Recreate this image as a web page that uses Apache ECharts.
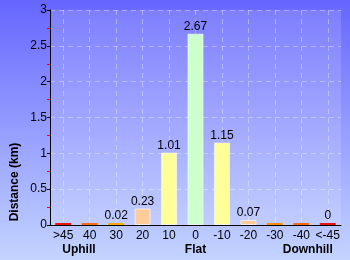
<!DOCTYPE html>
<html><head><meta charset="utf-8">
<script src="https://cdn.jsdelivr.net/npm/echarts@6/dist/echarts.min.js"></script>
<style>html,body{margin:0;padding:0;}#c{width:350px;height:260px;}</style>
</head><body><div id="c"></div>
<script>
const categories = ['>45','40','30','20','10','0','-10','-20','-30','-40','<-45'];
const distances = [0.01,0.01,0.02,0.23,1.01,2.67,1.15,0.07,0.01,0.01,0];
const valueLabels = ['','','0.02','0.23','1.01','2.67','1.15','0.07','','','0'];
const barColors = ['#ee1111','#ff6a10','#ffaa00','#ffcc99','#ffff99','#ccffcc','#ffff99','#ffcc99','#ff8a10','#ff6a10','#ee1111'];
const groupLabels = ['Uphill','Flat','Downhill'];
const yTicks = [0,0.5,1,1.5,2,2.5,3];

const chart = echarts.init(document.getElementById('c'), null, {renderer:'canvas'});
const font = 'Liberation Sans, Arial, sans-serif';
chart.setOption({
  animation:false,
  backgroundColor:{type:'linear',x:0,y:0,x2:0,y2:1,colorStops:[{offset:0,color:'#6666ff'},{offset:1,color:'#c4d4ff'}]},
  grid:{left:50,right:9,top:10,bottom:35,show:true,backgroundColor:'rgba(255,255,255,0.14)',borderWidth:0},
  xAxis:{type:'category',data:categories,
    axisLine:{lineStyle:{color:'#000',width:1}},
    axisTick:{show:false},
    axisLabel:{color:'#000',fontSize:12,fontFamily:font,margin:5,interval:0},
    splitLine:{show:true,alignWithLabel:true,lineStyle:{color:'rgba(255,255,255,0.35)',type:[5,4]}}},
  yAxis:{type:'value',min:yTicks[0],max:yTicks[yTicks.length-1],interval:0.5,
    axisLine:{show:true,lineStyle:{color:'#000',width:1}},
    axisTick:{show:true,length:3,lineStyle:{color:'#000',width:1}},
    minorTick:{show:true,splitNumber:2,length:3,lineStyle:{color:'#ee0000',width:1}},
    axisLabel:{color:'#000',fontSize:12,fontFamily:font,margin:3},
    splitLine:{show:true,lineStyle:{color:'rgba(255,255,255,0.35)',type:[5,4]}}},
  series:[{type:'bar',barWidth:16,barMinHeight:2,
    data:distances.map((v,i)=>({value:v,itemStyle:{color:barColors[i],borderColor:'rgba(255,255,255,0.6)',borderWidth:v>=0.05?1:0}})),
    label:{show:true,position:'top',distance:1,color:'#000',fontSize:12,fontFamily:font,
      formatter:p=>valueLabels[p.dataIndex]}}]
});
function place(){
  const x0 = chart.convertToPixel({xAxisIndex:0}, categories[0]);
  const x5 = chart.convertToPixel({xAxisIndex:0}, categories[5]);
  const x10 = chart.convertToPixel({xAxisIndex:0}, categories[10]);
  const st = {fill:'#000',font:'bold 12px '+font,textVerticalAlign:'middle'};
  chart.setOption({graphic:[
    {type:'text',x:x0-1,y:250,style:Object.assign({text:groupLabels[0],textAlign:'left'},st)},
    {type:'text',x:x5,y:250,style:Object.assign({text:groupLabels[1],textAlign:'center'},st)},
    {type:'text',x:x10+5,y:250,style:Object.assign({text:groupLabels[2],textAlign:'right'},st)},
    {type:'text',x:15,y:182,rotation:Math.PI/2,style:Object.assign({text:'Distance (km)',textAlign:'center'},st)}
  ]});
}
place();
</script></body></html>
